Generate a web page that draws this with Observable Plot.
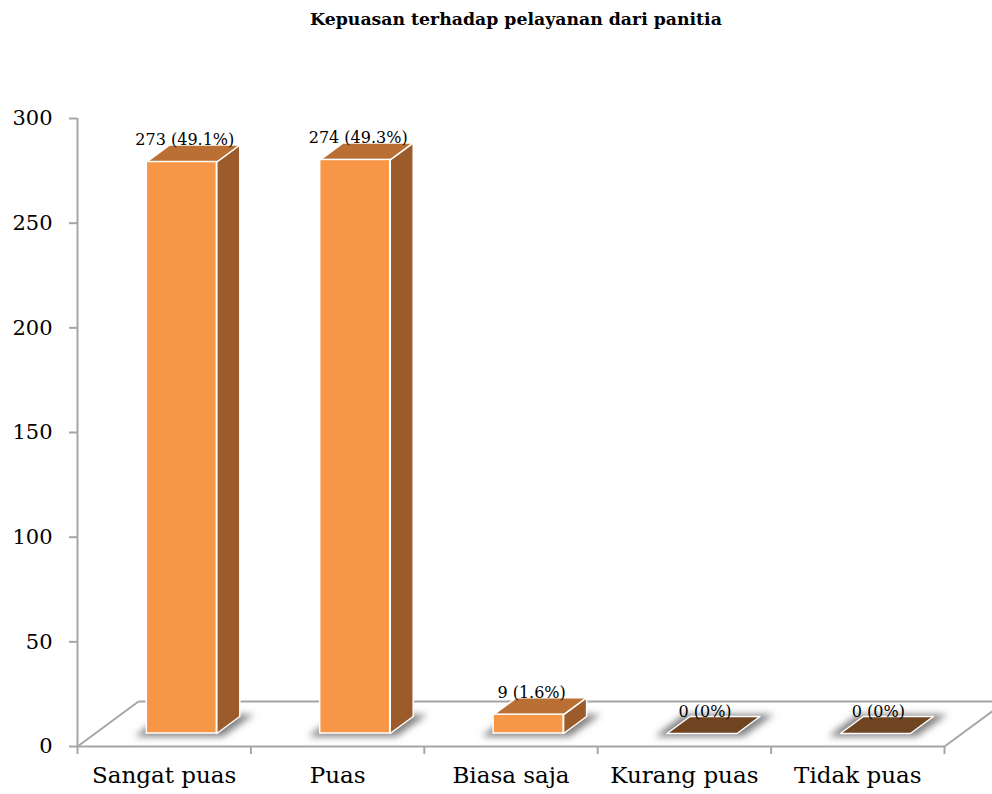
<!DOCTYPE html>
<html><head><meta charset="utf-8">
<script src="https://cdn.jsdelivr.net/npm/d3@7"></script>
<script src="https://cdn.jsdelivr.net/npm/@observablehq/plot@0.6"></script>
<style>
body{margin:0;background:#fff;overflow:hidden;font-family:"DejaVu Serif",serif;}
#title{height:38px;line-height:38px;text-align:center;font-weight:bold;font-size:17.3px;color:#000;padding-left:40px;}
</style></head><body>
<div id="title">Kepuasan terhadap pelayanan dari panitia</div>
<div id="chart"></div>
<script>
const categories = ["Sangat puas", "Puas", "Biasa saja", "Kurang puas", "Tidak puas"];
const counts = [273, 274, 9, 0, 0];
const percentLabels = ["49.1%", "49.3%", "1.6%", "0%", "0%"];
const yTicks = [0, 50, 100, 150, 200, 250, 300];

const W = 992, H = 756, mL = 77, mR = 48, mT = 80, mB = 48;
const kx = (W - mL - mR) / categories.length;
const ky = (H - mT - mB) / 300;
const px = p => p / kx, py = p => p / ky;
const BAR_W = 70, BASE_DX = 17.6, BASE_DY = 13, DEPTH_DX = 23, DEPTH_DY = 17, FLOOR_DX = 61, FLOOR_DY = 45;
const ddx = px(DEPTH_DX), ddy = py(DEPTH_DY);

const bars = categories.map((c, i) => {
  const xc = i + 0.5 + px(BASE_DX);
  const x1 = xc - px(BAR_W / 2), x2 = xc + px(BAR_W / 2);
  const y0 = py(BASE_DY), y1 = y0 + counts[i];
  return {c, i, v: counts[i], x1, x2, y0, y1, xc, label: `${counts[i]} (${percentLabels[i]})`};
});
const nonZero = bars.filter(b => b.v > 0);
const sidePts = nonZero.flatMap(b => [
  {c: b.c, x: b.x2, y: b.y0}, {c: b.c, x: b.x2, y: b.y1},
  {c: b.c, x: b.x2 + ddx, y: b.y1 + ddy}, {c: b.c, x: b.x2 + ddx, y: b.y0 + ddy}]);
const topFace = b => [
  {c: b.c, x: b.x1, y: b.y1}, {c: b.c, x: b.x2, y: b.y1},
  {c: b.c, x: b.x2 + ddx, y: b.y1 + ddy}, {c: b.c, x: b.x1 + ddx, y: b.y1 + ddy}];
const topPts = nonZero.flatMap(topFace);
const flatPts = bars.filter(b => b.v === 0).flatMap(topFace);
const shadowPts = bars.flatMap(b => [
  {c: b.c, x: b.x1 - px(12), y: b.y0 - py(3)}, {c: b.c, x: b.x2 + px(6), y: b.y0 - py(3)},
  {c: b.c, x: b.x2 + ddx + px(14), y: b.y0 + ddy + py(2)}, {c: b.c, x: b.x1 + ddx - px(6), y: b.y0 + ddy + py(2)}]);

const fdx = px(FLOOR_DX), fdy = py(FLOOR_DY);
const floorLines = [
  {x1: fdx, y1: fdy, x2: categories.length + fdx, y2: fdy},
  {x1: 0, y1: 0, x2: fdx, y2: fdy},
  {x1: categories.length, y1: 0, x2: categories.length + fdx, y2: fdy}
];
const gray = "#a6a6a6";
const shadowColor = "#7a7a7b";

const chart = Plot.plot({
  width: W, height: H,
  marginLeft: mL, marginRight: mR, marginTop: mT, marginBottom: mB,
  style: {fontFamily: "DejaVu Serif, serif", fontSize: "21px", background: "white", color: "black", overflow: "visible"},
  x: {domain: [0, categories.length], label: null},
  y: {domain: [0, 300], label: null},
  marks: [
    Plot.link(floorLines, {x1: "x1", y1: "y1", x2: "x2", y2: "y2", stroke: gray, strokeWidth: 2}),
    Plot.line(shadowPts, {x: "x", y: "y", z: "c", fill: shadowColor, fillOpacity: 0.95, curve: "linear-closed"}),
    Plot.line(sidePts, {x: "x", y: "y", z: "c", fill: "#9c5b2a", stroke: "white", strokeWidth: 1.5, curve: "linear-closed"}),
    Plot.line(topPts, {x: "x", y: "y", z: "c", fill: "#ba7035", stroke: "white", strokeWidth: 1.5, curve: "linear-closed"}),
    Plot.line(flatPts, {x: "x", y: "y", z: "c", fill: "#6f4420", stroke: "white", strokeWidth: 1.5, curve: "linear-closed"}),
    Plot.rect(nonZero, {x1: "x1", x2: "x2", y1: "y0", y2: "y1", fill: "#f79646", stroke: "white", strokeWidth: 1.5}),
    Plot.text(bars, {x: "xc", y: "y1", text: "label", dx: 3, dy: -22, fontSize: 16, fill: "black"}),
    Plot.ruleX([0], {y1: 0, y2: 300, stroke: gray, strokeWidth: 2}),
    Plot.ruleY([0], {x1: 0, x2: categories.length, stroke: gray, strokeWidth: 2}),
    Plot.axisY({ticks: yTicks, tickSize: 8, tickPadding: 17, stroke: gray, strokeWidth: 2, fontSize: 21}),
    Plot.axisX({ticks: d3.range(categories.length + 1), tickSize: 8, tickFormat: () => "", stroke: gray, strokeWidth: 2}),
    Plot.axisX({ticks: categories.map((_, i) => i + 0.5), tickSize: 0, tickPadding: 20, tickFormat: d => categories[Math.floor(d)], fontSize: 23})
  ]
});
document.getElementById("chart").appendChild(chart);
const svg = d3.select(chart);
const f = svg.insert("defs", ":first-child").append("filter").attr("id", "blurShadow")
  .attr("filterUnits", "userSpaceOnUse").attr("x", 0).attr("y", 0).attr("width", W).attr("height", H);
f.append("feGaussianBlur").attr("stdDeviation", 3.5);
svg.selectAll("g").filter(function() { return this.getAttribute("fill") === shadowColor; })
  .attr("filter", "url(#blurShadow)");
svg.selectAll("path").filter(function() { return this.getAttribute("fill") === shadowColor; })
  .attr("filter", "url(#blurShadow)");
</script>
</body></html>
